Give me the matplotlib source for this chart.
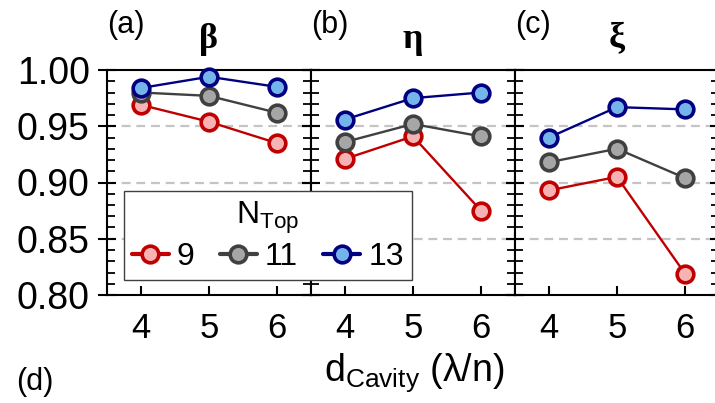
import matplotlib
matplotlib.use("Agg")
import matplotlib.pyplot as plt
from matplotlib.ticker import MultipleLocator, FormatStrFormatter

plt.rcParams["font.family"] = ["Liberation Sans", "DejaVu Sans"]
plt.rcParams["mathtext.fontset"] = "custom"
plt.rcParams["mathtext.rm"] = "Liberation Sans"
plt.rcParams["mathtext.it"] = "Liberation Sans:italic"

# data
d_cavity = [4, 5, 6]
n_top = ["9", "11", "13"]
panel_tags = ["(a)", "(b)", "(c)"]
panel_symbols = ["β", "η", "ξ"]

beta_9 = [0.969, 0.954, 0.935]
beta_11 = [0.980, 0.977, 0.962]
beta_13 = [0.984, 0.994, 0.985]

eta_9 = [0.921, 0.941, 0.875]
eta_11 = [0.936, 0.952, 0.941]
eta_13 = [0.956, 0.975, 0.980]

xi_9 = [0.893, 0.905, 0.819]
xi_11 = [0.918, 0.930, 0.904]
xi_13 = [0.940, 0.967, 0.965]

panels = [
    [beta_9, beta_11, beta_13],
    [eta_9, eta_11, eta_13],
    [xi_9, xi_11, xi_13],
]

line_colors = ["#c00000", "#404040", "#000080"]
face_colors = ["#f7b3b3", "#a6a6a6", "#74b4ea"]

W, H = 715, 403
fig = plt.figure(figsize=(W / 100, H / 100), dpi=100)

left0, top, pw, ph = 107, 70, 204, 225
axes = []
for i, series in enumerate(panels):
    ax = fig.add_axes([(left0 + i * pw) / W, 1 - (top + ph) / H, pw / W, ph / H])
    axes.append(ax)
    for yv in [0.85, 0.90, 0.95]:
        ax.axhline(yv, color="#c4c4c4", lw=1.6, ls=(0, (4, 2.6)), zorder=1)
    for vals, lc, fc, lab in zip(series, line_colors, face_colors, n_top):
        ax.plot(d_cavity, vals, "-o", color=lc, lw=1.7, ms=12, mfc=fc,
                mec=lc, mew=2.6, label=lab, zorder=3, clip_on=False)
    ax.set_xlim(3.5, 6.5)
    ax.set_ylim(0.80, 1.00)
    ax.set_xticks(d_cavity)
    ax.yaxis.set_major_locator(MultipleLocator(0.05))
    ax.yaxis.set_minor_locator(MultipleLocator(0.01))
    ax.yaxis.set_major_formatter(FormatStrFormatter("%.2f"))
    ax.tick_params(axis="y", which="major", direction="inout", length=13,
                   width=1.5, left=True, right=True, labelsize=27, pad=6)
    ax.tick_params(axis="y", which="minor", direction="in", length=6,
                   width=1.3, left=True, right=True)
    ax.tick_params(axis="x", which="major", direction="in", length=6.5,
                   width=1.5, top=False, labelsize=25, pad=12)
    if i > 0:
        ax.tick_params(axis="y", which="both", labelleft=False)
    for s in ax.spines.values():
        s.set_linewidth(1.5)
    ax.text(0.0, 1.0 + 60 / ph, panel_tags[i], transform=ax.transAxes,
            fontsize=22, ha="left", va="top")
    ax.text(0.5, 1.0 + 31 / ph, panel_symbols[i], transform=ax.transAxes,
            fontsize=26, ha="center", va="center",
            family=["Liberation Serif", "DejaVu Serif"], fontweight="bold")

handles, labels = axes[0].get_legend_handles_labels()
leg = fig.legend(handles, labels, title=r"N$_{\mathrm{Top}}$", ncol=3,
                 loc="lower left", bbox_to_anchor=(124 / W, 1 - 280 / H),
                 fontsize=23, title_fontsize=23, frameon=True, fancybox=False,
                 edgecolor="#404040", framealpha=1, handlelength=1.15,
                 handletextpad=0.25, columnspacing=0.8, borderpad=0.25,
                 borderaxespad=0, labelspacing=0.2)
leg.get_frame().set_linewidth(1.0)
for h in leg.legend_handles:
    h.set_linewidth(3)
    h.set_solid_capstyle("round")

fig.text(414 / W, 1 - 373 / H, r"d$_{\mathrm{Cavity}}$ (λ/n)", fontsize=27,
         ha="center", va="center")
fig.text(16 / W, 1 - 382 / H, "(d)", fontsize=22, ha="left", va="center")

fig.savefig("out.png", dpi=100)
